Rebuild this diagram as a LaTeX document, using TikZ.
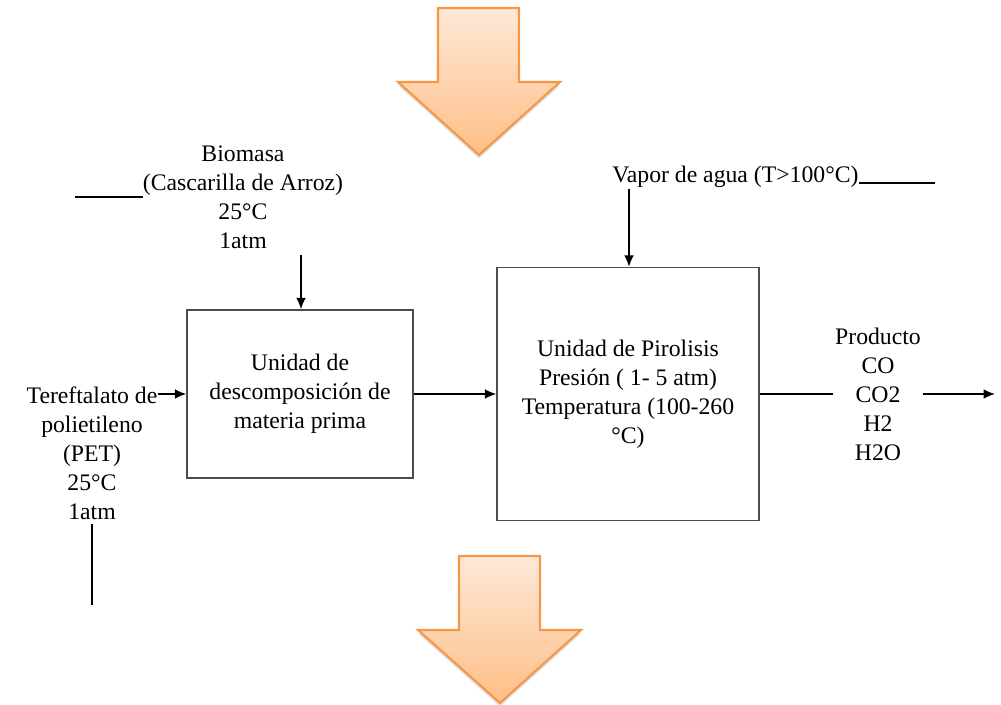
\documentclass[tikz,border=0pt]{standalone}
\usepackage{fontspec}
\setmainfont{Liberation Serif}
\usetikzlibrary{arrows.meta,shadows}

\definecolor{naranjaborde}{HTML}{F79646}
\definecolor{naranjaclaro}{HTML}{FDE8D7}
\definecolor{naranjaosc}{HTML}{FFBF87}

\tikzset{
  texto/.style={align=center,inner sep=0pt,
    font=\fontsize{13.5}{16.5}\selectfont},
  unidad/.style={draw=black!70,line width=0.8pt,align=center,
    font=\fontsize{13.5}{16.5}\selectfont},
  flujo/.style={line width=0.8pt,-{Latex[length=6.5pt,width=5.5pt]}},
  linea/.style={line width=0.8pt},
  flecha/.style={draw=naranjaborde,line width=1.2pt,
    top color=naranjaclaro,bottom color=naranjaosc,
    drop shadow={opacity=0.25,shadow xshift=0pt,shadow yshift=-2pt}}
}

\begin{document}
\begin{tikzpicture}[x=0.02cm,y=-0.02cm]

\useasboundingbox (0,0) rectangle (1001,705);

% flechas grandes
\path[flecha] (438,8) -- (519,8) -- (519,82) -- (560,82)
  -- (479,155) -- (398,82) -- (438,82) -- cycle;
\path[flecha] (459,556) -- (540,556) -- (540,630) -- (581,630)
  -- (500,703) -- (418,630) -- (459,630) -- cycle;

% unidades
\node[unidad,minimum width=4.52cm,minimum height=3.36cm] (descomp) at (300,394)
{Unidad de\\descomposición de\\materia prima};

\node[unidad,minimum width=5.24cm,minimum height=5.06cm] (pirolisis) at (628,394)
{Unidad de Pirolisis\\Presión ( 1- 5 atm)\\Temperatura (100-260\\°C)};

% entradas
\node[texto] (biomasa) at (243,197)
{Biomasa\\(Cascarilla de Arroz)\\25°C\\1atm};

\node[texto] (pet) at (92,453)
{Tereftalato de\\polietileno\\(PET)\\25°C\\1atm};

\node[texto,anchor=base west] (vapor) at (612,183)
{Vapor de agua (T>100°C)};

% salida
\node[texto,inner sep=1pt] (producto) at (878,394)
{Producto\\CO\\CO2\\H2\\H2O};

\coordinate (bioizq) at (75,197);
\coordinate (bioin) at (301,255);
\coordinate (petabajo) at (92,605);
\coordinate (petarriba) at (92,524);
\coordinate (vapin) at (629,189);
\coordinate (vapder) at (935,183);
\coordinate (salida) at (995,394);

\draw[linea] (bioizq) -- (biomasa.west);
\draw[flujo] (bioin) -- (bioin |- descomp.north);

\draw[flujo] (pet.east |- descomp.west) -- (descomp.west);
\draw[linea] (petarriba) -- (petabajo);

\draw[flujo] (descomp.east) -- (pirolisis.west);

\draw[linea] (vapor.base east) -- (vapder);
\draw[flujo] (vapin) -- (vapin |- pirolisis.north);

\draw[linea] (pirolisis.east) -- (producto.west);
\draw[flujo] (producto.east) -- (salida);

\end{tikzpicture}
\end{document}
